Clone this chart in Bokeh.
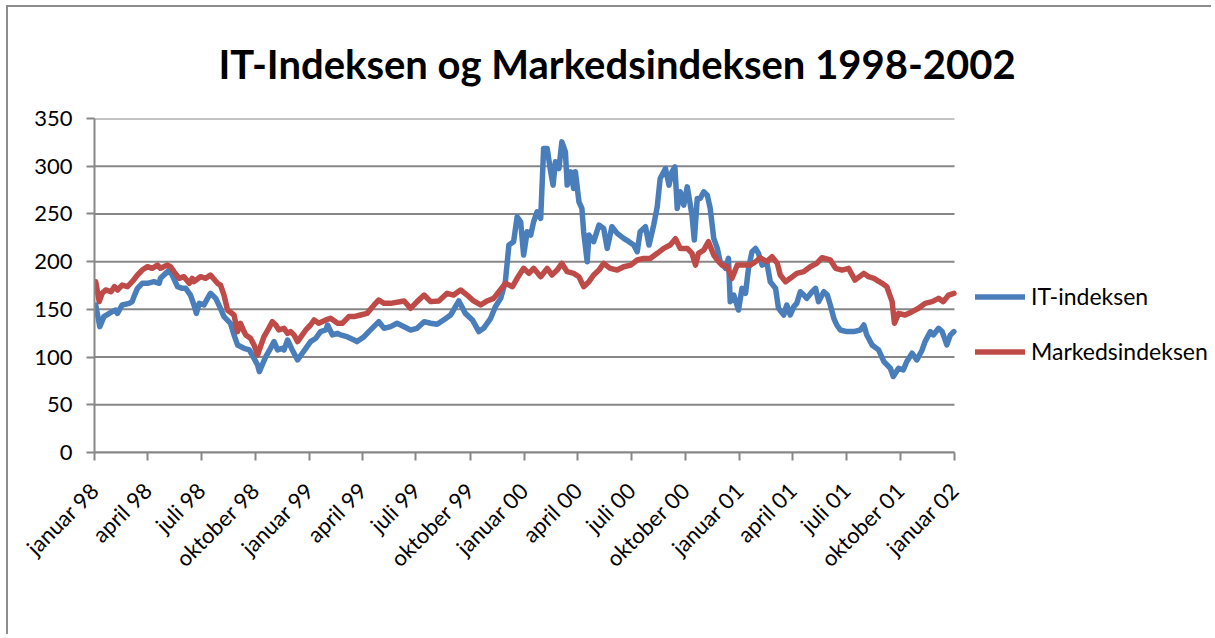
import datetime as dt
from bokeh.plotting import figure
from bokeh.models import Range1d, FixedTicker, Legend, LegendItem, CustomJSTickFormatter
from bokeh.embed import file_html
from bokeh.resources import INLINE

TITLE = "IT-Indeksen og Markedsindeksen 1998-2002"
SERIES_NAMES = ["IT-indeksen", "Markedsindeksen"]

it_dates = [
    "1998-01-03", "1998-01-10", "1998-01-17", "1998-01-31", "1998-02-06", "1998-02-09", "1998-02-17",
    "1998-03-01", "1998-03-06", "1998-03-09", "1998-03-15", "1998-03-23", "1998-04-01", "1998-04-12",
    "1998-04-21", "1998-04-23", "1998-05-02", "1998-05-08", "1998-05-13", "1998-05-22", "1998-05-30",
    "1998-06-05", "1998-06-13", "1998-06-19", "1998-06-23", "1998-06-28", "1998-07-06", "1998-07-12",
    "1998-07-17", "1998-07-26", "1998-08-03", "1998-08-09", "1998-08-20", "1998-08-26", "1998-09-01",
    "1998-09-12", "1998-09-21", "1998-09-29", "1998-10-05", "1998-10-08", "1998-10-13", "1998-10-19",
    "1998-10-27", "1998-11-02", "1998-11-08", "1998-11-16", "1998-11-19", "1998-11-25", "1998-12-03",
    "1998-12-12", "1998-12-20", "1998-12-26", "1999-01-03", "1999-01-12", "1999-01-20", "1999-01-29",
    "1999-02-01", "1999-02-09", "1999-02-18", "1999-02-23", "1999-03-06", "1999-03-18", "1999-03-23",
    "1999-04-04", "1999-04-12", "1999-04-29", "1999-05-08", "1999-05-19", "1999-05-30", "1999-06-22",
    "1999-07-03", "1999-07-15", "1999-07-26", "1999-08-06", "1999-08-17", "1999-08-29", "1999-09-12",
    "1999-09-23", "1999-10-05", "1999-10-16", "1999-10-24", "1999-11-05", "1999-11-13", "1999-11-22",
    "1999-11-30", "1999-12-06", "1999-12-14", "1999-12-20", "1999-12-26", "1999-12-31", "2000-01-06",
    "2000-01-12", "2000-01-17", "2000-01-23", "2000-01-29", "2000-02-03", "2000-02-09", "2000-02-15",
    "2000-02-19", "2000-02-23", "2000-02-29", "2000-03-05", "2000-03-11", "2000-03-14", "2000-03-20",
    "2000-03-25", "2000-03-28", "2000-04-03", "2000-04-08", "2000-04-11", "2000-04-17", "2000-04-20",
    "2000-04-28", "2000-05-07", "2000-05-15", "2000-05-21", "2000-05-29", "2000-06-07", "2000-06-18",
    "2000-06-27", "2000-07-05", "2000-07-11", "2000-07-16", "2000-07-25", "2000-07-31", "2000-08-08",
    "2000-08-14", "2000-08-19", "2000-08-28", "2000-09-03", "2000-09-08", "2000-09-13", "2000-09-17",
    "2000-09-22", "2000-09-28", "2000-10-04", "2000-10-12", "2000-10-16", "2000-10-21", "2000-10-26",
    "2000-11-01", "2000-11-07", "2000-11-12", "2000-11-18", "2000-11-24", "2000-11-29", "2000-12-08",
    "2000-12-13", "2000-12-16", "2000-12-22", "2000-12-30", "2001-01-05", "2001-01-11", "2001-01-16",
    "2001-01-22", "2001-01-28", "2001-02-02", "2001-02-08", "2001-02-16", "2001-02-22", "2001-03-03",
    "2001-03-08", "2001-03-17", "2001-03-22", "2001-03-28", "2001-04-03", "2001-04-08", "2001-04-14",
    "2001-04-20", "2001-04-25", "2001-05-04", "2001-05-10", "2001-05-15", "2001-05-24", "2001-05-30",
    "2001-06-04", "2001-06-10", "2001-06-15", "2001-06-21", "2001-07-02", "2001-07-14", "2001-07-25",
    "2001-07-31", "2001-08-05", "2001-08-14", "2001-08-25", "2001-09-03", "2001-09-14", "2001-09-19",
    "2001-09-28", "2001-10-06", "2001-10-12", "2001-10-21", "2001-10-29", "2001-11-07", "2001-11-12",
    "2001-11-21", "2001-11-26", "2001-12-05", "2001-12-11", "2001-12-19", "2001-12-25", "2001-12-31",
]
it_values = [
    154.6, 131.9, 142.4, 147.6, 149.3, 145.8, 154.6,
    156.3, 158.1, 163.3, 172.0, 177.3, 177.3, 179.0,
    177.3, 182.5, 187.7, 191.2, 186.0, 173.8, 172.0,
    172.0, 165.0, 154.6, 145.8, 156.3, 154.6, 161.5,
    166.8, 161.5, 151.1, 142.4, 135.4, 123.2, 112.7,
    109.2, 107.5, 98.7, 91.8, 84.8, 91.8, 100.5,
    109.2, 116.2, 107.5, 109.2, 107.5, 117.9, 107.5,
    97.0, 104.0, 109.2, 116.2, 119.7, 126.7, 128.4,
    133.6, 123.2, 124.9, 123.2, 121.4, 117.9, 116.2,
    121.4, 126.7, 137.1, 130.1, 131.9, 135.4, 128.4,
    130.1, 137.1, 135.4, 134.3, 138.9, 144.1, 158.8,
    145.8, 138.9, 126.7, 130.1, 140.6, 152.8, 161.5,
    179.0, 217.4, 220.9, 247.0, 241.8, 206.9, 231.3,
    227.8, 241.8, 252.3, 245.3, 318.6, 318.6, 294.1,
    280.2, 304.6, 297.6, 325.5, 315.1, 280.2, 294.1,
    276.7, 294.1, 262.7, 255.8, 231.3, 199.9, 227.8,
    220.9, 238.3, 234.8, 213.9, 236.6, 229.6, 224.4,
    220.9, 217.4, 210.4, 231.3, 236.6, 217.4, 238.3,
    257.5, 287.2, 297.6, 280.2, 294.1, 299.4, 255.8,
    273.2, 259.2, 278.4, 248.8, 222.6, 266.2, 266.2,
    273.2, 269.7, 255.8, 224.4, 213.9, 199.9, 193.0,
    203.4, 158.1, 165.0, 149.3, 172.0, 166.8, 193.0,
    210.4, 213.9, 208.7, 196.4, 199.9, 179.0, 172.0,
    151.1, 144.1, 154.6, 144.1, 152.8, 156.3, 168.5,
    165.0, 161.5, 168.5, 172.0, 158.1, 168.5, 165.0,
    154.6, 140.6, 133.6, 128.4, 126.7, 126.7, 128.4,
    133.6, 123.2, 112.7, 107.5, 95.3, 88.3, 79.6,
    88.3, 86.5, 95.3, 104.0, 97.0, 107.5, 116.2,
    126.7, 123.2, 130.1, 126.7, 112.7, 123.2, 126.7,
]

mk_dates = [
    "1998-01-03", "1998-01-09", "1998-01-14", "1998-01-20", "1998-01-29", "1998-02-04", "1998-02-09",
    "1998-02-17", "1998-02-26", "1998-03-06", "1998-03-15", "1998-03-23", "1998-04-01", "1998-04-09",
    "1998-04-18", "1998-04-23", "1998-05-05", "1998-05-10", "1998-05-16", "1998-05-25", "1998-06-02",
    "1998-06-11", "1998-06-16", "1998-06-19", "1998-06-30", "1998-07-09", "1998-07-17", "1998-07-29",
    "1998-08-03", "1998-08-09", "1998-08-15", "1998-08-26", "1998-09-01", "1998-09-06", "1998-09-12",
    "1998-09-15", "1998-09-23", "1998-09-29", "1998-10-05", "1998-10-08", "1998-10-16", "1998-10-24",
    "1998-10-30", "1998-11-05", "1998-11-10", "1998-11-19", "1998-11-25", "1998-11-30", "1998-12-06",
    "1998-12-12", "1998-12-20", "1998-12-26", "1999-01-03", "1999-01-09", "1999-01-17", "1999-01-29",
    "1999-02-06", "1999-02-18", "1999-02-26", "1999-03-09", "1999-03-18", "1999-03-29", "1999-04-09",
    "1999-04-21", "1999-04-29", "1999-05-08", "1999-05-19", "1999-06-11", "1999-06-22", "1999-07-03",
    "1999-07-15", "1999-07-26", "1999-08-09", "1999-08-23", "1999-09-03", "1999-09-15", "1999-09-26",
    "1999-10-07", "1999-10-19", "1999-10-30", "1999-11-10", "1999-11-19", "1999-11-30", "1999-12-12",
    "1999-12-20", "1999-12-31", "2000-01-09", "2000-01-17", "2000-01-29", "2000-02-09", "2000-02-17",
    "2000-02-26", "2000-03-05", "2000-03-14", "2000-03-25", "2000-04-03", "2000-04-11", "2000-04-20",
    "2000-04-28", "2000-05-07", "2000-05-15", "2000-05-26", "2000-06-07", "2000-06-18", "2000-06-30",
    "2000-07-11", "2000-07-22", "2000-08-02", "2000-08-14", "2000-08-25", "2000-09-05", "2000-09-14",
    "2000-09-22", "2000-10-04", "2000-10-12", "2000-10-18", "2000-10-23", "2000-11-01", "2000-11-09",
    "2000-11-18", "2000-11-24", "2000-12-02", "2000-12-11", "2000-12-19", "2000-12-28", "2001-01-08",
    "2001-01-19", "2001-01-28", "2001-02-05", "2001-02-16", "2001-02-25", "2001-03-06", "2001-03-11",
    "2001-03-20", "2001-03-28", "2001-04-08", "2001-04-20", "2001-05-01", "2001-05-12", "2001-05-21",
    "2001-06-04", "2001-06-13", "2001-06-24", "2001-07-05", "2001-07-16", "2001-07-31", "2001-08-08",
    "2001-08-17", "2001-08-31", "2001-09-08", "2001-09-17", "2001-09-21", "2001-09-28", "2001-10-09",
    "2001-10-21", "2001-11-01", "2001-11-12", "2001-11-24", "2001-12-05", "2001-12-13", "2001-12-22",
    "2001-12-31",
]
mk_values = [
    179.0, 158.1, 166.8, 170.3, 168.5, 173.8, 170.3,
    175.5, 173.8, 179.0, 186.0, 191.2, 194.7, 193.0,
    196.4, 193.0, 196.4, 194.7, 189.5, 182.5, 184.2,
    177.3, 182.5, 179.0, 184.2, 182.5, 186.0, 177.3,
    175.5, 165.0, 149.3, 144.1, 126.7, 135.4, 126.7,
    123.2, 119.7, 112.7, 102.2, 107.5, 121.4, 130.1,
    137.1, 133.6, 128.4, 130.1, 124.9, 126.7, 123.2,
    116.2, 123.2, 128.4, 133.6, 138.9, 135.4, 138.9,
    140.6, 135.4, 135.4, 142.4, 142.4, 144.1, 145.8,
    154.6, 159.8, 156.3, 156.3, 158.8, 151.1, 158.1,
    165.0, 158.1, 158.8, 166.8, 165.0, 170.3, 165.0,
    158.8, 154.6, 158.8, 161.5, 168.5, 177.3, 173.8,
    182.5, 193.0, 187.7, 193.0, 184.2, 193.0, 186.0,
    191.2, 198.2, 189.5, 187.7, 184.2, 173.8, 179.0,
    186.0, 191.2, 198.2, 193.0, 191.2, 194.7, 196.4,
    201.7, 203.4, 203.4, 208.7, 213.9, 217.4, 224.0,
    213.9, 213.9, 208.7, 196.4, 208.7, 212.1, 220.9,
    206.9, 201.7, 196.4, 194.7, 182.5, 196.4, 196.4,
    196.4, 199.9, 204.1, 199.9, 205.2, 198.2, 186.0,
    179.0, 182.5, 187.7, 189.5, 194.7, 198.2, 204.1,
    201.7, 193.0, 191.2, 193.0, 180.7, 187.7, 184.2,
    182.5, 177.3, 173.8, 158.1, 135.4, 145.8, 144.1,
    147.6, 151.1, 156.3, 158.1, 161.5, 158.1, 165.0,
    166.8,
]

tick_dates = [
    "1998-01-01", "1998-04-01", "1998-07-01", "1998-10-01",
    "1999-01-01", "1999-04-01", "1999-07-01", "1999-10-01",
    "2000-01-01", "2000-04-01", "2000-07-01", "2000-10-01",
    "2001-01-01", "2001-04-01", "2001-07-01", "2001-10-01",
    "2002-01-01",
]
tick_labels = [
    "januar 98", "april 98", "juli 98", "oktober 98",
    "januar 99", "april 99", "juli 99", "oktober 99",
    "januar 00", "april 00", "juli 00", "oktober 00",
    "januar 01", "april 01", "juli 01", "oktober 01",
    "januar 02",
]
y_ticks = [0, 50, 100, 150, 200, 250, 300, 350]

EPOCH = dt.datetime(1970, 1, 1)


def to_dt(s):
    return dt.datetime.strptime(s, "%Y-%m-%d")


def to_ms(s):
    return (to_dt(s) - EPOCH).total_seconds() * 1000.0


FONT = "Lato"
GRID = "#878787"
BLUE = "#4A7EBB"
RED = "#BE4B48"

# layout (pixels): plot area 860 px for the date span, frame extended to hold the legend
AXIS_PX = 860.0
FRAME_PX = 1119.0
x_start = to_ms(tick_dates[0])
x_stop = to_ms(tick_dates[-1])
x_view_end = x_start + (x_stop - x_start) * FRAME_PX / AXIS_PX

p = figure(
    width=1205, height=629,
    x_axis_type="datetime",
    x_range=Range1d(x_start, x_view_end),
    y_range=Range1d(y_ticks[0], y_ticks[-1]),
    output_backend="svg", toolbar_location=None,
    min_border_left=86, min_border_right=0, min_border_top=110, min_border_bottom=184,
)
p.styles = {"margin-left": "6px", "margin-top": "5px",
            "border-left": "2px solid #8c8c8c", "border-top": "2px solid #8c8c8c"}
p.outline_line_color = None
p.background_fill_color = "white"
p.border_fill_color = "white"

p.title.text = TITLE
p.title.text_font = FONT
p.title.text_font_style = "bold"
p.title.text_font_size = "40px"
p.title.text_color = "black"
p.title.align = "left"
p.title.offset = 124
p.title.standoff = 61

# horizontal grid lines, limited to the date span
p.segment(x0=[x_start] * len(y_ticks), y0=y_ticks, x1=[x_stop] * len(y_ticks), y1=y_ticks,
          line_color=GRID, line_width=2)

r_it = p.line([to_dt(d) for d in it_dates], it_values, line_color=BLUE, line_width=5.5,
              line_join="round", line_cap="round")
r_mk = p.line([to_dt(d) for d in mk_dates], mk_values, line_color=RED, line_width=5.5,
              line_join="round", line_cap="round")

# y axis
p.yaxis.ticker = FixedTicker(ticks=y_ticks)
p.yaxis.axis_line_color = GRID
p.yaxis.axis_line_width = 2
p.yaxis.major_tick_line_color = GRID
p.yaxis.major_tick_line_width = 2
p.yaxis.major_tick_out = 8
p.yaxis.major_tick_in = 0
p.yaxis.minor_tick_line_color = None
p.yaxis.major_label_text_font = FONT
p.yaxis.major_label_text_font_size = "22px"
p.yaxis.major_label_text_color = "black"
p.yaxis.major_label_standoff = 14

# x axis
tick_ms = [to_ms(d) for d in tick_dates]
p.xaxis.ticker = FixedTicker(ticks=tick_ms)
p.xaxis.bounds = (x_start, x_stop)
p.xaxis.formatter = CustomJSTickFormatter(
    args=dict(tvals=tick_ms, tlabels=tick_labels),
    code="""
    for (let i = 0; i < tvals.length; i++) {
        if (Math.abs(tvals[i] - tick) < 3600000) { return tlabels[i]; }
    }
    return "";
    """,
)
p.xaxis.major_label_orientation = 0.785398
p.xaxis.axis_line_color = GRID
p.xaxis.axis_line_width = 2
p.xaxis.major_tick_line_color = GRID
p.xaxis.major_tick_line_width = 2
p.xaxis.major_tick_out = 8
p.xaxis.major_tick_in = 0
p.xaxis.minor_tick_line_color = None
p.xaxis.major_label_text_font = FONT
p.xaxis.major_label_text_font_size = "22px"
p.xaxis.major_label_text_color = "black"
p.xaxis.major_label_standoff = 26

p.xgrid.grid_line_color = None
p.ygrid.grid_line_color = None

legend = Legend(
    items=[LegendItem(label=SERIES_NAMES[0], renderers=[r_it]),
           LegendItem(label=SERIES_NAMES[1], renderers=[r_mk])],
    location=(881, 87),
    orientation="vertical",
    border_line_color=None,
    background_fill_alpha=0,
    label_text_font=FONT,
    label_text_font_size="23px",
    label_text_color="black",
    glyph_width=50,
    glyph_height=27,
    label_height=27,
    label_standoff=6,
    spacing=27,
    padding=0,
    margin=0,
)
p.add_layout(legend, "center")

open("out.html", "w").write(file_html(p, INLINE))
